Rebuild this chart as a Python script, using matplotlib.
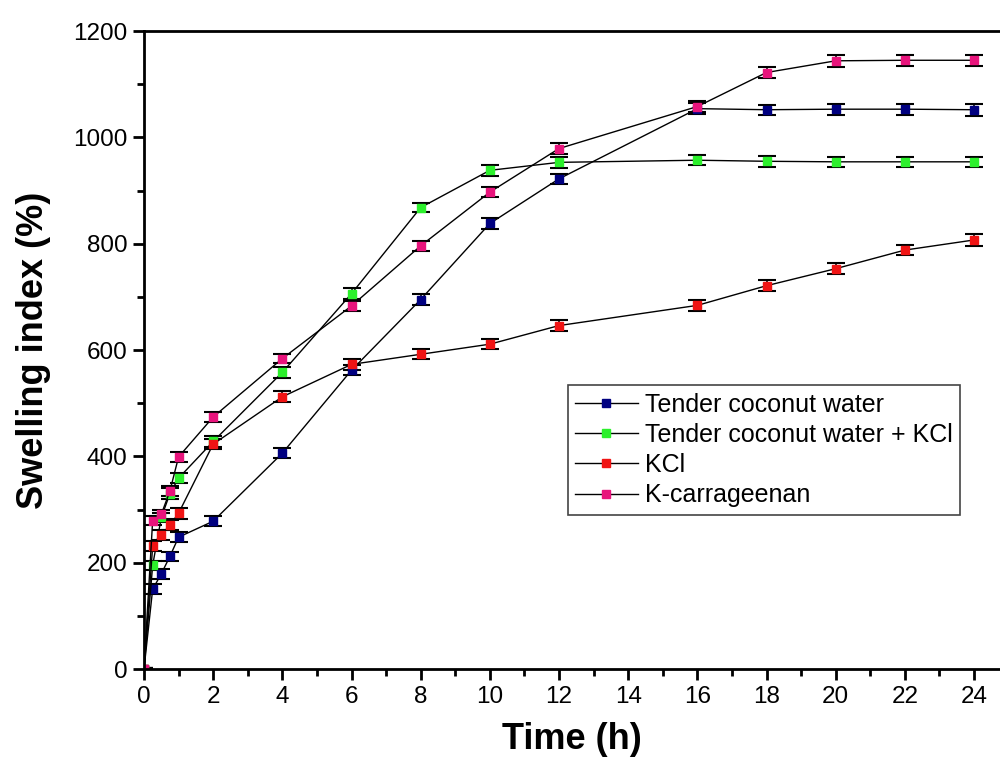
import numpy as np
import matplotlib.pyplot as plt
from matplotlib.ticker import MultipleLocator

plt.rcParams['font.family'] = ['Liberation Sans', 'DejaVu Sans']

# sampling times (h)
time_h = [0, 0.25, 0.5, 0.75, 1, 2, 4, 6, 8, 10, 12, 16, 18, 20, 22, 24]

# swelling index (%) for each medium
tcw = [0, 150, 179, 212, 248, 278, 406, 562, 695, 838, 922, 1054, 1052, 1053, 1053, 1052]
tcw_kcl = [0, 195, 285, 330, 359, 428, 558, 706, 868, 938, 953, 957, 955, 954, 954, 954]
kcl = [0, 231, 252, 271, 293, 423, 512, 573, 592, 611, 646, 684, 721, 753, 788, 807]
kcar = [0, 279, 291, 335, 399, 474, 584, 683, 796, 897, 979, 1058, 1122, 1144, 1145, 1145]

# standard deviations
tcw_err = [2, 9, 9, 9, 9, 9, 9, 9, 10, 10, 10, 10, 9, 10, 10, 11]
tcw_kcl_err = [2, 9, 9, 10, 10, 10, 10, 10, 9, 10, 11, 9, 10, 10, 10, 10]
kcl_err = [2, 9, 9, 9, 10, 10, 10, 11, 9, 10, 10, 10, 10, 10, 10, 12]
kcar_err = [2, 9, 9, 10, 10, 10, 9, 10, 9, 10, 11, 11, 10, 11, 10, 10]

labels = ['Tender coconut water', 'Tender coconut water + KCl', 'KCl', 'K-carrageenan']
colors = ['#000080', '#2cf02c', '#f01414', '#e8147c']

fig = plt.figure(figsize=(10, 7.72), dpi=100)
ax = fig.add_axes([0.144, 0.1334, 0.856, 0.8264])

series = [(tcw, tcw_err), (tcw_kcl, tcw_kcl_err), (kcl, kcl_err), (kcar, kcar_err)]
for (vals, err), lab, col in zip(series, labels, colors):
    ax.errorbar(time_h, vals, yerr=err, color='black', lw=1.0,
                marker='s', ms=8, mfc=col, mec=col,
                ecolor='black', elinewidth=1.2, capsize=6.5, capthick=1.5,
                label=lab)

ax.set_xlim(0, 24.75)
ax.set_ylim(0, 1200)
ax.xaxis.set_major_locator(MultipleLocator(2))
ax.xaxis.set_minor_locator(MultipleLocator(1))
ax.yaxis.set_major_locator(MultipleLocator(200))
ax.yaxis.set_minor_locator(MultipleLocator(100))

for s in ['left', 'bottom', 'top']:
    ax.spines[s].set_linewidth(2)
ax.spines['right'].set_visible(False)
ax.tick_params(which='major', direction='out', length=8, width=2, labelsize=17.5, pad=4)
ax.tick_params(which='minor', direction='out', length=5, width=2)

ax.set_xlabel('Time (h)', fontsize=26, fontweight='bold', labelpad=10)
ax.set_ylabel('Swelling index (%)', fontsize=26, fontweight='bold', labelpad=16)

handles, labs = ax.get_legend_handles_labels()
handles = [h[0] for h in handles]
for h in handles:
    h.set_markersize(6)
leg = ax.legend(handles, labs, loc='upper left', bbox_to_anchor=(0.495, 0.445),
                fontsize=18, frameon=True, fancybox=False, framealpha=1,
                edgecolor='#444444', handlelength=2.5, handletextpad=0.3,
                labelspacing=0.25, borderpad=0.3, borderaxespad=0)
leg.get_frame().set_linewidth(1.2)

fig.savefig('out.png', dpi=100)
